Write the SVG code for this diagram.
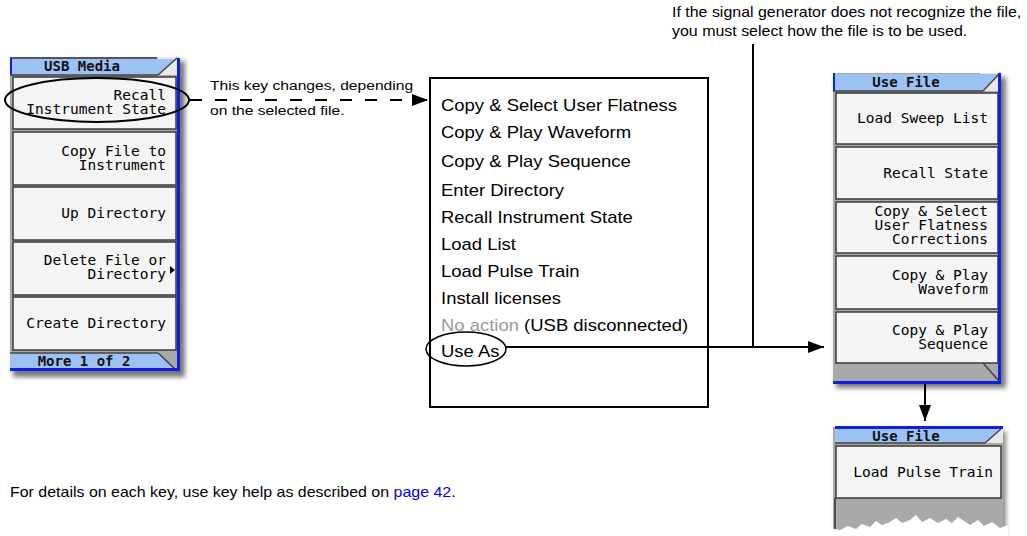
<svg xmlns="http://www.w3.org/2000/svg" width="1027" height="536" viewBox="0 0 1027 536">
<style>
.key{fill:#f4f4f4;stroke:#3a3a3a;stroke-width:1.5}
.frame{fill:#a9a9a9}
.hdr{fill:#9cc2f3}
.blue{fill:#1020e0}
.klab{font-family:"DejaVu Sans Mono","Liberation Mono",monospace;font-size:14.5px;fill:#000;text-anchor:end}
.hlab{font-family:"DejaVu Sans Mono","Liberation Mono",monospace;font-size:14px;font-weight:bold;fill:#111;text-anchor:middle}
.menu{font-family:"Liberation Sans",Arial,sans-serif;font-size:16.2px;fill:#000}
.note{font-family:"Liberation Sans",Arial,sans-serif;font-size:14px;fill:#000}
.ln{stroke:#000;stroke-width:2;fill:none}
</style>
<defs>
<filter id="sh" x="-10%" y="-10%" width="130%" height="130%"><feGaussianBlur stdDeviation="2.5"/></filter>
<marker id="ah" markerWidth="16" markerHeight="12" refX="16" refY="6" orient="auto" markerUnits="userSpaceOnUse"><path d="M0,0 L16,6 L0,12 Z" fill="#000"/></marker>
</defs>

<g id="usb-media-panel">
<rect x="13" y="61" width="172" height="316" fill="#777" filter="url(#sh)"/>
<rect class="frame" x="10" y="57" width="170" height="314"/>
<rect x="10" y="57" width="170" height="2" fill="#555"/>
<polygon points="157,57 180,57 180,75 160,75" fill="#e8e8e8"/>
<polygon class="hdr" points="10,59 176,59 158,75 10,75"/>
<line x1="158" y1="75" x2="177" y2="58" stroke="#444" stroke-width="1.5"/>
<line x1="10" y1="75" x2="158" y2="75" stroke="#444" stroke-width="1.5"/>
<rect class="blue" x="10" y="58" width="2" height="17"/>
<text class="hlab" x="82" y="71">USB Media</text>
<rect class="key" x="13" y="77" width="163" height="52"/>
<rect class="key" x="13" y="132" width="163" height="53"/>
<rect class="key" x="13" y="187" width="163" height="53"/>
<rect class="key" x="13" y="242" width="163" height="53"/>
<rect class="key" x="13" y="297" width="163" height="53"/>
<text class="klab" x="166" y="100">Recall</text>
<text class="klab" x="166" y="114">Instrument State</text>
<text class="klab" x="166" y="156">Copy File to</text>
<text class="klab" x="166" y="170">Instrument</text>
<text class="klab" x="166" y="218">Up Directory</text>
<text class="klab" x="166" y="265">Delete File or</text>
<text class="klab" x="166" y="279">Directory</text>
<polygon points="170,266 175,270 170,274" fill="#000"/>
<text class="klab" x="166" y="328">Create Directory</text>
<polygon class="hdr" points="10,353 158,353 174,368 10,368"/>
<line x1="158" y1="353" x2="175" y2="369" stroke="#444" stroke-width="1.5"/>
<line x1="10" y1="353" x2="158" y2="353" stroke="#444" stroke-width="1.5"/>
<text class="hlab" x="84" y="366">More 1 of 2</text>
<rect class="blue" x="177" y="58" width="3" height="313"/>
<rect class="blue" x="10" y="368" width="170" height="3"/>
<ellipse cx="97" cy="100" rx="92" ry="22" fill="none" stroke="#000" stroke-width="2"/>
</g>

<g id="menu-box">
<rect x="430" y="78" width="278" height="329" fill="#fff" stroke="#000" stroke-width="2"/>
<text class="menu" transform="translate(441,111) scale(1.14,1)">Copy &amp; Select User Flatness</text>
<text class="menu" transform="translate(441,138) scale(1.14,1)">Copy &amp; Play Waveform</text>
<text class="menu" transform="translate(441,167) scale(1.14,1)">Copy &amp; Play Sequence</text>
<text class="menu" transform="translate(441,196) scale(1.14,1)">Enter Directory</text>
<text class="menu" transform="translate(441,223) scale(1.14,1)">Recall Instrument State</text>
<text class="menu" transform="translate(441,250) scale(1.14,1)">Load List</text>
<text class="menu" transform="translate(441,277) scale(1.14,1)">Load Pulse Train</text>
<text class="menu" transform="translate(441,304) scale(1.14,1)">Install licenses</text>
<text class="menu" transform="translate(441,331) scale(1.14,1)"><tspan fill="#999">No action</tspan> (USB disconnected)</text>
<text class="menu" transform="translate(441,357) scale(1.14,1)">Use As</text>
<ellipse cx="466" cy="349" rx="40" ry="17" fill="none" stroke="#000" stroke-width="1.5"/>
</g>

<g id="use-file-panel">
<rect x="836" y="77" width="170" height="311" fill="#777" filter="url(#sh)"/>
<rect class="frame" x="833" y="73" width="168" height="311"/>
<polygon points="980,73 1001,73 1001,91 983,91" fill="#e8e8e8"/>
<polygon class="hdr" points="833,74 999,74 983,91 833,91"/>
<line x1="983" y1="91" x2="1000" y2="73" stroke="#444" stroke-width="1.5"/>
<line x1="833" y1="91" x2="983" y2="91" stroke="#444" stroke-width="1.5"/>
<rect class="blue" x="833" y="73" width="2" height="18"/>
<text class="hlab" x="906" y="87">Use File</text>
<rect class="key" x="836" y="93" width="162" height="51"/>
<rect class="key" x="836" y="147" width="162" height="52"/>
<rect class="key" x="836" y="202" width="162" height="51"/>
<rect class="key" x="836" y="256" width="162" height="53"/>
<rect class="key" x="836" y="312" width="162" height="51"/>
<text class="klab" x="988" y="123">Load Sweep List</text>
<text class="klab" x="988" y="178">Recall State</text>
<text class="klab" x="988" y="216">Copy &amp; Select</text>
<text class="klab" x="988" y="230">User Flatness</text>
<text class="klab" x="988" y="244">Corrections</text>
<text class="klab" x="988" y="280">Copy &amp; Play</text>
<text class="klab" x="988" y="294">Waveform</text>
<text class="klab" x="988" y="335">Copy &amp; Play</text>
<text class="klab" x="988" y="349">Sequence</text>
<line x1="983" y1="363" x2="999" y2="381" stroke="#444" stroke-width="1.5"/>
<rect class="blue" x="998" y="73" width="3" height="311"/>
<rect class="blue" x="833" y="381" width="168" height="3"/>
</g>

<g id="use-file-panel-2">
<rect x="836" y="431" width="170" height="105" fill="#888" filter="url(#sh)"/>
<rect class="frame" x="833" y="427" width="170" height="109"/>
<polygon points="985,429 1003,429 1003,443 985,443" fill="#e8e8e8"/>
<polygon class="hdr" points="835,429 1000,429 985,443 835,443"/>
<line x1="985" y1="443" x2="1001" y2="429" stroke="#444" stroke-width="1.5"/>
<line x1="835" y1="443" x2="985" y2="443" stroke="#444" stroke-width="1.5"/>
<rect class="blue" x="835" y="426" width="168" height="3"/>
<text class="hlab" x="906" y="441">Use File</text>
<rect class="key" x="836" y="446" width="165" height="52"/>
<text class="klab" x="993" y="477">Load Pulse Train</text>
<line x1="835" y1="498" x2="835" y2="536" stroke="#333" stroke-width="1.5"/>
<polygon points="830,536 830,528 840,530 848,526 856,529 862,524 870,527 876,521 882,525 890,522 896,518 902,523 910,520 916,515 922,522 930,518 938,523 946,519 952,523 958,517 964,521 970,525 978,520 984,526 992,522 1000,528 1008,525 1008,536" fill="#fff"/>
</g>

<g id="connectors">
<line class="ln" x1="190" y1="100" x2="428" y2="100" stroke-dasharray="12 13" marker-end="url(#ah)"/>
<line class="ln" x1="506" y1="347" x2="824" y2="347" marker-end="url(#ah)"/>
<line class="ln" x1="753" y1="44" x2="753" y2="347"/>
<line class="ln" x1="925" y1="384" x2="925" y2="421" marker-end="url(#ah)"/>
</g>

<g id="labels">
<text class="note" transform="translate(210,90) scale(1.14,1)" style="font-size:13.7px">This key changes, depending</text>
<text class="note" transform="translate(210,115) scale(1.14,1)" style="font-size:13.7px">on the selected file.</text>
<text class="note" transform="translate(672,17) scale(1.14,1)">If the signal generator does not recognize the file,</text>
<text class="note" transform="translate(672,36) scale(1.14,1)">you must select how the file is to be used.</text>
<text class="note" transform="translate(10,497) scale(1.14,1)">For details on each key, use key help as described on <tspan fill="#0000ee">page 42</tspan>.</text>
</g>
</svg>
